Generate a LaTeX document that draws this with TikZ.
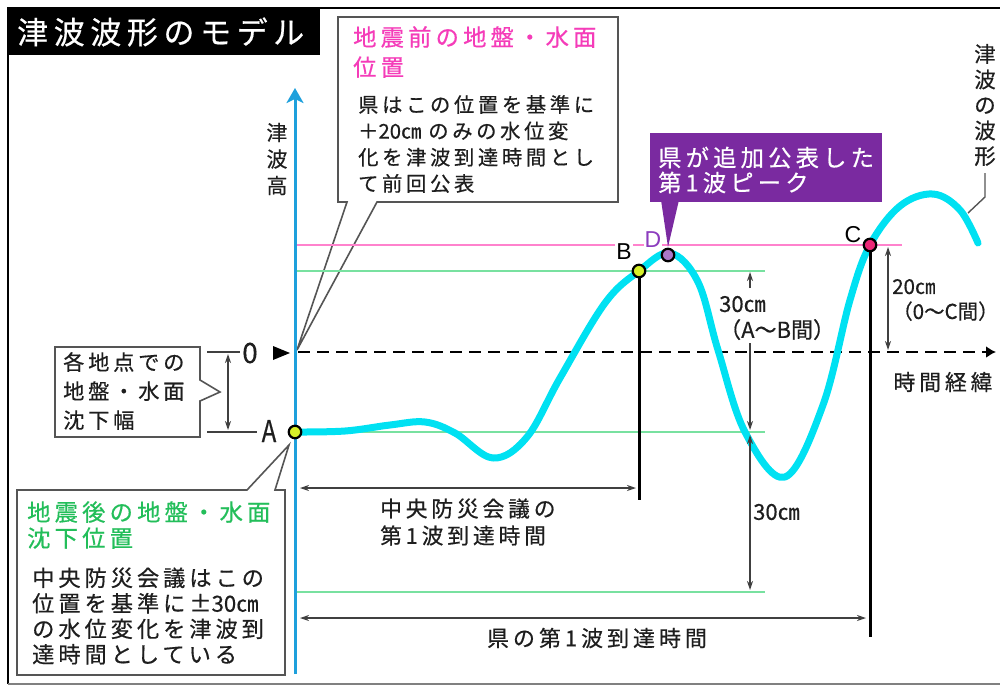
\documentclass[tikz,border=0pt]{standalone}
\usepackage{fontspec}
\usepackage{graphicx}
\setmainfont{Noto Sans CJK JP}[LetterSpace=18, FakeBold=0.5]
\newfontfamily\jpn{Noto Sans CJK JP}[FakeBold=0.5]
\newfontfamily\lat{Liberation Sans}
\usetikzlibrary{arrows.meta}
\definecolor{axisblue}{RGB}{30,160,220}
\definecolor{wavecyan}{RGB}{0,225,242}
\definecolor{pinkline}{RGB}{255,130,205}
\definecolor{greenline}{RGB}{120,225,160}
\definecolor{pinktext}{RGB}{245,60,185}
\definecolor{greentext}{RGB}{35,190,90}
\definecolor{purplebox}{RGB}{122,42,160}
\definecolor{purpletext}{RGB}{140,60,190}
\definecolor{dotyellow}{RGB}{215,240,40}
\definecolor{dotpurple}{RGB}{170,120,200}
\definecolor{dotpink}{RGB}{235,40,120}
\definecolor{ink}{RGB}{30,30,30}
\definecolor{boxgray}{RGB}{85,85,85}
\newcommand\jfs[2]{\fontsize{#1}{#2}\selectfont}
\newcommand\tight[1]{{\jpn #1}}
\begin{document}
\begin{tikzpicture}[x=1pt,y=-1pt,
  txt/.style={inner sep=0pt, text=ink, align=left},
  callout/.style={draw=boxgray, line width=1.6pt, fill=white, line join=miter},
  dot/.style={circle, draw=black, line width=2.2pt, minimum size=12.5pt, inner sep=0pt},
  dim/.style={draw=ink!85, line width=1.3pt},
  dimarrow/.style={dim, -{Stealth[length=9pt,width=6pt]}},
  dimboth/.style={dim, {Stealth[length=9pt,width=6pt]}-{Stealth[length=9pt,width=6pt]}},
  level/.style={line width=2pt},
  marker/.style={line width=3pt, draw=black},
  letter/.style={inner sep=1pt, fill=white, font=\lat\jfs{23}{23}},
]
\useasboundingbox (0,0) rectangle (1000,686);
% frame
\draw[line width=2pt] (8,55) -- (8,684);
\draw[line width=2pt] (320,8) -- (1004,8);
\draw[line width=2pt, draw=gray] (8,684) -- (1004,684);
% title
\fill[black] (7,7) rectangle (320,55);
\node[txt, text=white, anchor=west, font=\jfs{31}{31}] (title) at (17,32) {津波波形のモデル};

% coordinates
\coordinate (O) at (295,352);
\coordinate (Ac) at (295,432);
\coordinate (Bc) at (639,271);
\coordinate (Cc) at (870,245);
\coordinate (Dc) at (668,255);

% callout: before quake
\draw[callout] (377,202) -- (618,202) -- (618,17) -- (338,17) -- (338,202) -- (347,202) -- (297,350) -- cycle;
\node[txt, text=pinktext, anchor=west, font=\jfs{23.3}{30}] (pre) at (353,52) {地震前の地盤・水面\\位置};
\node[txt, anchor=west, font=\jfs{20.3}{26.3}] (pretext) at (358,144) {県はこの位置を基準に\\＋\tight{20㎝}\hspace{7pt}のみの水位変\\化を津波到達時間とし\\て前回公表};

% callout: subsidence width
\draw[callout] (55,347) -- (200,347) -- (200,380) -- (220,392) -- (200,401) -- (200,437) -- (55,437) -- cycle;
\node[txt, anchor=west, font=\jfs{21.2}{29}] (sub) at (63,391) {各地点での\\地盤・水面\\沈下幅};

% callout: after quake
\draw[callout] (247,490) -- (17,490) -- (17,675) -- (285,675) -- (285,490) -- (275,490) -- (289,445) -- cycle;
\node[txt, text=greentext, anchor=west, font=\jfs{23.3}{26}] (post) at (27,525) {地震後の地盤・水面\\沈下位置};
\node[txt, anchor=west, font=\jfs{22.2}{25.5}] (posttext) at (32,616) {中央防災会議はこの\\位置を基準に±\tight{30㎝}\\の水位変化を津波到\\達時間としている};

% level lines
\draw[pinkline, level] (297,245) -- (902,245);
\draw[greenline, level] (297,271) -- (765,271);
\draw[greenline, level] (297,432) -- (765,432);
\draw[greenline, level] (297,592) -- (765,592);

% axis
\draw[axisblue, line width=3pt, -{Stealth[length=15pt,width=17pt,inset=4pt]}] (295,674) -- (295,88);
\node[txt, align=center, font=\jfs{21}{26.5}] (yl) at (277,159) {津\\波\\高};

% zero line
\draw[black, line width=2.5pt, dash pattern=on 12pt off 7pt, -{Latex[length=10pt,width=12pt]}] (298,352) -- (996,352);
\node[txt, font=\jfs{28}{28}] (zero) at (250,353) {0};
\fill[black] (273,346) -- (273,360) -- (290,353) -- cycle;
\node[txt, font=\jfs{21.8}{25}] (time) at (943,382) {時間経緯};

% subsidence dimension
\draw[dim] (207,352) -- (240,352);
\draw[dim] (207,432) -- (257,432);
\draw[dimboth] (228,354) -- (228,430);

% wave
\draw[wavecyan, line width=7pt, line cap=round, line join=round]
  plot[smooth, tension=0.6] coordinates {(295,432) (345,431) (390,425) (425,422) (455,433) (493,458) (527,437) (560,378) (605,303) (639,271) (670,253) (698,282) (718,350) (745,432) (785,477) (823,405) (850,300) (870,245) (900,206) (933,194) (960,210) (978,243)};
\node[txt, align=center, font=\jfs{21.5}{25.5}] (wl) at (985,105) {津\\波\\の\\波\\形};
\coordinate (wl1) at (985,173);
\coordinate (wl2) at (985,197);
\coordinate (wl3) at (968,213);
\draw[boxgray, line width=1.4pt] (wl1) -- (wl2) -- (wl3);

% vertical markers
\coordinate (Bbot) at (639,500);
\coordinate (Cbot) at (870,637);
\draw[marker] (Bc) -- (Bbot);
\draw[marker] (Cc) -- (Cbot);

% purple callout
\fill[purplebox] (650,133) rectangle (882,202);
\fill[purplebox] (661,200) -- (679,200) -- (668,247) -- cycle;
\node[txt, text=white, anchor=west, font=\jfs{23.3}{25}] (peak) at (658,170) {県が追加公表した\\第1波ピーク};

% dots and letters
\node[letter] (Bl) at (624,252) {B};
\node[letter, text=purpletext] (Dl) at (653,240) {D};
\node[letter] (Cl) at (853,235) {C};
\node[txt, font=\jfs{30}{30}] (Al) at (269,431) {\scalebox{0.8}[1]{A}};
\node[dot, fill=dotyellow] (A) at (Ac) {};
\node[dot, fill=dotyellow] (B) at (Bc) {};
\node[dot, fill=dotpurple] (D) at (Dc) {};
\node[dot, fill=dotpink] (C) at (Cc) {};

% time arrows
\coordinate (t1a) at (300,488);
\coordinate (t1b) at (636,488);
\draw[dimboth] (t1a) -- (t1b);
\node[txt, anchor=west, font=\jfs{21.7}{27}] (chuo) at (380,522) {中央防災会議の\\第1波到達時間};
\coordinate (t2a) at (300,618);
\coordinate (t2b) at (866,618);
\draw[dimboth] (t2a) -- (t2b);
\node[txt, font=\jfs{22}{25}] (ken) at (597,638) {県の第1波到達時間};

% 30cm (A-B)
\draw[dimarrow] (750,288) -- (750,272);
\draw[dimarrow] (750,343) -- (750,430);
\node[txt, anchor=west, font=\jpn\jfs{22}{26}] (ab) at (719,318) {30㎝\\（A～B間）};
% 30cm lower
\draw[dimboth] (750,435) -- (750,590);
\node[txt, anchor=west, font=\jpn\jfs{22}{26}] (low) at (753,512) {30㎝};
% 20cm
\draw[dimboth] (888,247) -- (888,350);
\node[txt, anchor=west, font=\jpn\jfs{20.5}{25}] (oc) at (892,300) {20㎝\\（0～C間）};
\end{tikzpicture}
\end{document}
